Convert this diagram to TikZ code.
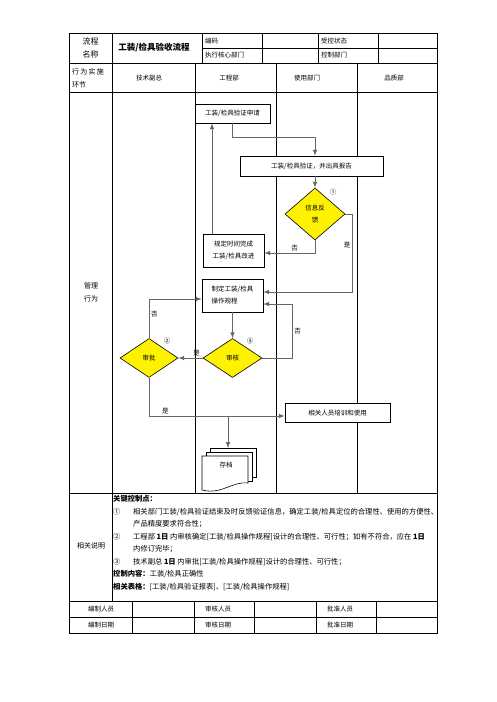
\documentclass[tikz,border=0pt]{standalone}
\usepackage{fontspec}
\setmainfont{Noto Sans CJK SC}
\usetikzlibrary{shapes,arrows,positioning,calc}

\begin{document}
\begin{tikzpicture}[x=1pt,y=-1pt]
  \tikzstyle{rule}=[line width=0.6pt]
  \tikzstyle{cell}=[font=\fontsize{6.5}{9}\selectfont, inner sep=0pt, align=left]
  \tikzstyle{box}=[rectangle, draw, line width=0.6pt, fill=white, font=\fontsize{6.5}{12}\selectfont, align=center, inner sep=1pt]
  \tikzstyle{decision}=[diamond, draw, line width=0.6pt, fill=yellow, font=\fontsize{6.5}{12}\selectfont, align=center, inner sep=0pt]
  \tikzstyle{flow}=[-latex, line width=1pt, draw=black!60]
  \tikzstyle{lbl}=[font=\fontsize{6.5}{8}\selectfont, inner sep=1.5pt]

  \fill[white] (0,0) rectangle (496,702);
  \useasboundingbox (0,0) rectangle (496,702);

  % Tabla
  \draw[rule] (69,33) rectangle (437,633);
  \draw[rule] (202,48) -- (437,48);
  \draw[rule] (69,63) -- (437,63);
  \draw[rule] (69,92) -- (437,92);
  \draw[rule] (69,493) -- (437,493);
  \draw[rule] (69,601) -- (437,601);
  \draw[rule] (69,617) -- (437,617);
  \draw[rule] (112,33) -- (112,601);
  \foreach \x in {202,262,318,378} \draw[rule] (\x,33) -- (\x,63);
  \foreach \x in {195,276,357} \draw[rule] (\x,63) -- (\x,493);
  \foreach \x in {132,194,254,316,376} \draw[rule] (\x,601) -- (\x,633);

  % Cabecera
  \node[cell, font=\fontsize{8}{13}\selectfont, align=center] (name) at (90.5,48) {流程\\名称};
  \node[cell, font=\fontsize{8.5}{10}\selectfont\bfseries] (title) at (154,48) {工装/检具验收流程};
  \node[cell, anchor=west] (code) at (205,41) {编码};
  \node[cell, anchor=west] (dept) at (205,55.5) {执行核心部门};
  \node[cell, anchor=west] (state) at (321,41) {受控状态};
  \node[cell, anchor=west] (ctrl) at (321,55.5) {控制部门};

  % Carriles
  \node[cell, anchor=west, font=\fontsize{7}{13}\selectfont] (step) at (72,78) {行\hspace{1.2pt}为\hspace{1.2pt}实\hspace{1.2pt}施\\环节};
  \node[cell] (vp) at (149,78) {技术副总};
  \node[cell] (eng) at (229,78) {工程部};
  \node[cell] (user) at (307,78) {使用部门};
  \node[cell] (qa) at (394,78) {品质部};
  \node[cell, font=\fontsize{7}{13}\selectfont] (mgmt) at (91,292) {管理\\行为};

  % Nodos
  \node[box, minimum width=75, minimum height=19] (apply) at (232.5,113.5) {工装/检具验证申请};
  \node[box, minimum width=143, minimum height=20] (verify) at (311.5,166) {工装/检具验证，并出具报告};
  \node[decision, minimum width=60, minimum height=52] (feedback) at (315,214) {信息反\\馈};
  \node[box, minimum width=61, minimum height=33] (improve) at (233.5,250.5) {规定时间完成\\工装/检具改进};
  \node[box, minimum width=61, minimum height=33, align=left] (proc) at (232.5,295.5) {制定工装/检具\\操作规程};
  \node[decision, minimum width=59, minimum height=39] (review) at (232.5,358) {审核};
  \node[decision, minimum width=58, minimum height=39] (approve) at (149,358) {审批};
  \node[box, minimum width=105, minimum height=19] (train) at (337.5,413) {相关人员培训和使用};

  % Numeros
  \node[lbl] (n1) at (333,192) {①};
  \node[lbl] (n2) at (167,341) {②};
  \node[lbl] (n3) at (250,341) {③};

  % Archivo
  \foreach \d in {8,4}
    \draw[line width=0.6pt, fill=white] (202+\d,456-\d) rectangle (248+\d,485-\d);
  \draw[line width=0.6pt, fill=white] (202,456) -- (248,456) -- (248,483)
    .. controls (232,481) and (222,495) .. (202,490) -- cycle;
  \node[lbl, font=\fontsize{6.5}{8}\selectfont] (archive) at (226,465) {存档};
  \coordinate (split) at (228,416);
  \coordinate (archtop) at (228,448);

  % Conexiones
  \draw[flow] (apply.south) -- ++(0,14) -| (verify.north -| feedback.north);
  \draw[flow] (verify.south -| feedback.north) -- (feedback.north);
  \draw[flow] (feedback.south) |- node[lbl, pos=0.7, above] {否} ([yshift=-2.5pt]improve.east);
  \draw[flow] ([xshift=-21.5pt]improve.north) -- ([xshift=-21.5pt]improve.north |- apply.south);
  \draw[flow] (feedback.east) -- ++(7,0) |- node[lbl, pos=0.2, left] {是} ([yshift=3.5pt]proc.east);
  \draw[flow] (proc.south) -- (review.north);
  \draw[flow] (review.east) -- ++(30,0) |- node[lbl, pos=0.25, right] {否} ([yshift=-8.5pt]proc.east);
  \draw[flow] (review.west) -- node[lbl, pos=0.25, above] {是} (approve.east);
  \draw[flow] (approve.north) |- node[lbl, pos=0.3, right] {否} ([yshift=-3.5pt]proc.west);
  \draw[flow] (approve.south) |- node[lbl, pos=0.56, above] {是} ([yshift=-3pt]train.west);
  \draw[flow] (split) -- (archtop);

  % Notas
  \node[cell, font=\fontsize{7}{13}\selectfont] (notes) at (91,546) {相关说明};
  \node[cell, anchor=north west, font=\fontsize{7.3}{12.5}\selectfont] (keys) at (113,495.5) {%
    \textbf{关键控制点：}\\
    \makebox[20pt][l]{①}相关部门工装/检具验证结束及时反馈验证信息，确定工装/检具定位的合理性、使用的方便性、\\
    \hspace*{20pt}产品精度要求符合性；\\
    \makebox[20pt][l]{②}工程部 \textbf{1日} 内审核确定[工装/检具操作规程]设计的合理性、可行性；如有不符合，应在 \textbf{1日}\\
    \hspace*{20pt}内修订完毕；\\
    \makebox[20pt][l]{③}技术副总 \textbf{1日} 内审批[工装/检具操作规程]设计的合理性、可行性；\\
    \textbf{控制内容：}工装/检具正确性\\
    \textbf{相关表格：}[工装/检具验证报表]、[工装/检具操作规程]};

  % Firmas
  \node[cell] (author) at (101,609) {编制人员};
  \node[cell] (checker) at (218,609) {审核人员};
  \node[cell] (approver) at (340,609) {批准人员};
  \node[cell] (adate) at (101,625) {编制日期};
  \node[cell] (cdate) at (218,625) {审核日期};
  \node[cell] (pdate) at (340,625) {批准日期};
\end{tikzpicture}
\end{document}
